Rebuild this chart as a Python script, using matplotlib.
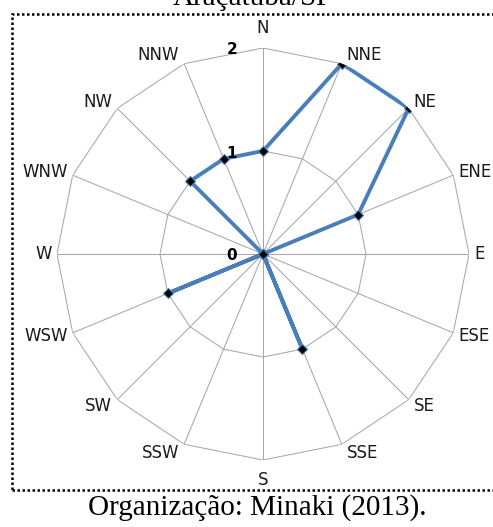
import numpy as np
import matplotlib
matplotlib.use("Agg")
import matplotlib.pyplot as plt
from matplotlib.patches import Rectangle

# Wind direction frequencies, Araçatuba/SP
directions = ["N", "NNE", "NE", "ENE", "E", "ESE", "SE", "SSE",
              "S", "SSW", "SW", "WSW", "W", "WNW", "NW", "NNW"]
frequency = [1.0, 2.0, 2.0, 1.0, 0, 0, 0, 1.0,
             0, 0, 0, 1.0, 0, 0, 1.0, 1.0]
ring_values = [0, 1, 2]
ring_labels = ["0", "1", "2"]
title = "Araçatuba/SP"
caption = "Organização: Minaki (2013)."

W, H, DPI = 493, 527, 100
PX = 72.0 / DPI  # points per pixel

fig = plt.figure(figsize=(W / DPI, H / DPI), dpi=DPI)
fig.patch.set_facecolor("white")

cx, cy, R = 263, 254, 206
ax = fig.add_axes([(cx - R) / W, (H - cy - R) / H, 2 * R / W, 2 * R / H],
                  projection="polar")
ax.set_theta_zero_location("N")
ax.set_theta_direction(-1)
ax.set_ylim(0, max(ring_values))
ax.set_axis_off()

n = len(directions)
theta = np.arange(n) * 2 * np.pi / n
closed = np.append(theta, theta[0])

grid_col = "#a8a8a8"
# polygonal rings
for rv in ring_values[1:]:
    ax.plot(closed, [rv] * (n + 1), color=grid_col, lw=0.75, zorder=1)
# spokes
for t in theta:
    ax.plot([t, t], [0, max(ring_values)], color=grid_col, lw=0.75, zorder=1)

# data series
vals = np.append(frequency, frequency[0])
ax.plot(closed, vals, color="#4A7EBB", lw=2.8, zorder=3,
        solid_joinstyle="round", solid_capstyle="round")
ax.plot(theta, frequency, linestyle="none", marker="D", markersize=5,
        markerfacecolor="black", markeredgecolor="#4A7EBB",
        markeredgewidth=0.8, zorder=4)

# direction labels
for t, name in zip(theta, directions):
    s, c = np.sin(t), np.cos(t)
    if abs(s) < 1e-6:
        ha = "center"
        dx, dy = 0, 20 * np.sign(c)
    else:
        ha = "left" if s > 0 else "right"
        dx, dy = 5 * np.sign(s), 9 * c
    ax.annotate(name, xy=(t, max(ring_values)), xytext=(dx * PX, dy * PX),
                textcoords="offset points", ha=ha, va="center",
                fontsize=12, family="DejaVu Sans", color="#1a1a1a",
                annotation_clip=False)

# radial tick labels
for rv, lab in zip(ring_values, ring_labels):
    ax.annotate(lab, xy=(0, rv), xytext=(-31 * PX, -2 * PX),
                textcoords="offset points", ha="center", va="center",
                fontsize=11, fontweight="bold", family="DejaVu Sans",
                color="black", annotation_clip=False)

# dotted frame
frame = Rectangle((12 / W, (H - 490) / H), (W + 10 - 12) / W, (490 - 14) / H,
                  transform=fig.transFigure, fill=False, edgecolor="black",
                  lw=1.8, linestyle=(0, (1, 1)), clip_on=False)
fig.add_artist(frame)

fig.text(253 / W, 1 - 5 / H, title, ha="center", va="baseline",
         fontsize=21, family="Liberation Serif")
fig.text(257 / W, 1 - 515 / H, caption, ha="center", va="baseline",
         fontsize=21, family="Liberation Serif")

fig.savefig("out.png", dpi=DPI, facecolor="white")
